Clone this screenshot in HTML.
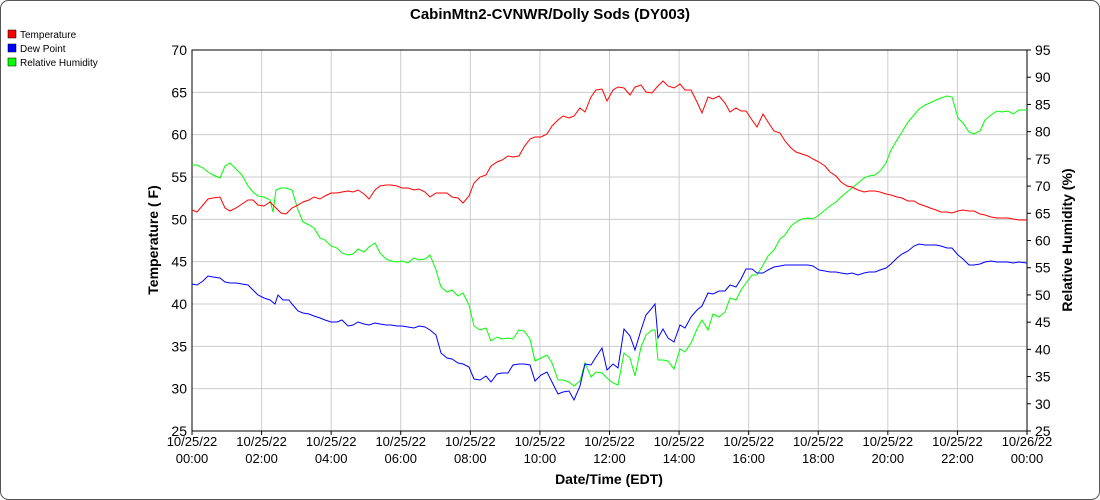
<!DOCTYPE html>
<html><head><meta charset="utf-8"><style>
html,body{margin:0;padding:0;background:#fff;}
svg{display:block;font-family:"Liberation Sans",Arial,sans-serif;}
</style></head><body>
<svg id="s" width="1100" height="500" xmlns="http://www.w3.org/2000/svg">
<rect x="0.5" y="0.5" width="1099" height="499" rx="8" fill="#fff" stroke="#555"/>
<text x="550" y="19" text-anchor="middle" font-size="15" font-weight="bold">CabinMtn2-CVNWR/Dolly Sods (DY003)</text>
<rect x="8" y="30" width="8" height="8" fill="#f00" stroke="#000" stroke-width="0.5"/><text x="20" y="38" font-size="10">Temperature</text>
<rect x="8" y="44" width="8" height="8" fill="#00f" stroke="#000" stroke-width="0.5"/><text x="20" y="52" font-size="10">Dew Point</text>
<rect x="8" y="58" width="8" height="8" fill="#0f0" stroke="#000" stroke-width="0.5"/><text x="20" y="66" font-size="10">Relative Humidity</text>
<g id="g"></g>
<text transform="translate(158,240) rotate(-90)" text-anchor="middle" font-size="14" font-weight="bold">Temperature ( F)</text>
<text transform="translate(1072,240) rotate(-90)" text-anchor="middle" font-size="14" font-weight="bold">Relative Humidity (%)</text>
<text x="609" y="484" text-anchor="middle" font-size="14" font-weight="bold">Date/Time (EDT)</text>
</svg>
<script>
var g=document.getElementById('g'),h='';
var L=192,R=1027,T=50,B=431;
for(var i=0;i<=9;i++){var y=T+i*(B-T)/9;h+='<line x1="'+L+'" x2="'+R+'" y1="'+y+'" y2="'+y+'" stroke="#ccc"/>';
h+='<text x="'+(L-5)+'" y="'+(y+5)+'" text-anchor="end" font-size="14">'+(70-5*i)+'</text>';}
for(var i=0;i<=14;i++){var y=T+i*(B-T)/14;h+='<line x1="'+R+'" x2="'+(R+4)+'" y1="'+y+'" y2="'+y+'" stroke="#000"/>';
h+='<text x="'+(R+8)+'" y="'+(y+5)+'" font-size="14">'+(95-5*i)+'</text>';}
for(var i=0;i<=12;i++){var x=L+i*(R-L)/12;h+='<line x1="'+x+'" x2="'+x+'" y1="'+T+'" y2="'+B+'" stroke="#ccc"/>';
h+='<line x1="'+x+'" x2="'+x+'" y1="'+B+'" y2="'+(B+4)+'" stroke="#000"/>';
var d=i==12?'10/26/22':'10/25/22',t=i==12?'00:00':((2*i<10?'0':'')+2*i+':00');
h+='<text x="'+x+'" y="446" text-anchor="middle" font-size="13">'+d+'</text><text x="'+x+'" y="463" text-anchor="middle" font-size="13">'+t+'</text>';}
h+='<rect x="'+L+'" y="'+T+'" width="'+(R-L)+'" height="'+(B-T)+'" fill="none" stroke="#000"/>';
var red="192,210 197,212 203,205 208,199 213,198 220,197 225,208 230,211 236,208 242,204 248,200 253,200 258,205 264,206 270,202 275,207 281,213 286,214 292,208 298,205 303,202 309,200 314,197 320,199 325,196 331,193 337,193 342,192 348,191 353,192 358,190 364,194 369,199 375,190 380,186 386,185 391,185 397,186 402,188 408,188 414,190 419,189 425,192 430,197 436,193 441,193 447,193 452,197 458,198 463,203 469,196 474,183 480,177 486,175 491,166 497,162 502,160 508,156 513,157 519,156 524,147 530,139 535,137 541,137 547,134 552,126 558,120 563,116 569,118 574,116 580,108 585,112 591,97 596,90 602,89 607,101 613,90 618,87 624,88 630,95 635,87 641,85 646,92 652,93 657,87 663,81 668,86 674,88 680,84 685,90 691,90 697,102 702,113 708,97 713,99 719,96 725,103 730,112 736,108 741,111 746,111 752,120 757,127 763,114 768,122 774,131 780,133 785,141 791,148 796,152 802,154 808,156 813,159 819,162 825,166 830,172 836,176 841,182 847,186 852,187 858,190 864,192 869,191 875,191 880,192 886,194 891,195 897,197 902,198 908,201 914,201 919,204 925,206 930,208 936,210 941,212 947,212 952,213 958,211 963,210 969,211 974,211 980,214 985,215 991,217 997,218 1002,218 1008,218 1013,219 1019,220 1027,220";
var blue="192,284 197,285 203,281 208,276 213,277 220,278 225,282 230,283 236,283 242,284 248,285 253,290 258,295 264,298 270,300 275,304 278,295 283,300 289,300 292,304 298,311 303,313 309,314 314,316 320,318 325,320 331,322 337,322 342,320 348,326 353,325 358,322 364,324 369,325 375,323 380,324 386,325 391,325 397,326 402,326 408,327 414,328 419,326 425,327 430,330 436,335 441,353 447,358 452,359 458,363 463,364 469,367 474,379 480,380 486,376 491,382 497,374 502,373 508,373 513,365 519,364 524,364 530,365 535,381 541,375 547,372 552,382 558,394 563,392 569,391 574,400 580,386 585,364 591,365 596,357 602,348 607,370 613,364 618,368 624,329 630,336 635,350 641,330 646,315 652,308 655,304 658,338 663,329 668,338 674,342 680,325 685,328 691,317 697,310 702,306 708,293 713,294 719,291 725,291 730,285 736,287 741,279 746,269 752,269 757,273 763,273 768,270 774,267 780,266 785,265 791,265 796,265 802,265 808,265 813,266 819,270 825,271 830,272 836,272 841,273 847,274 852,273 858,275 864,273 869,272 875,272 880,270 886,268 891,264 897,258 902,254 908,251 914,246 919,244 925,245 930,245 936,245 941,246 947,248 952,248 958,255 963,259 969,265 974,265 980,264 985,262 991,261 997,262 1002,262 1008,262 1013,263 1019,262 1027,263";
var green="192,165 197,165 203,168 208,172 213,175 220,178 225,166 230,163 236,169 242,175 248,186 253,192 258,196 264,197 270,200 273,212 276,190 281,188 286,188 292,190 298,210 303,222 309,225 314,228 320,238 325,240 331,246 337,248 342,253 348,255 353,254 358,249 364,252 369,247 375,243 380,253 386,259 391,261 397,262 402,261 408,263 414,258 419,260 425,259 430,255 436,270 441,287 447,292 452,290 458,296 463,293 469,305 474,326 480,330 486,328 491,341 497,337 502,339 508,338 513,339 519,330 524,331 530,339 535,361 541,358 547,355 552,363 558,380 563,380 569,382 574,386 580,381 585,363 591,377 596,372 602,373 607,378 613,383 618,385 624,353 630,358 635,376 641,347 646,335 652,330 655,330 658,360 663,360 668,361 674,369 680,349 685,352 691,343 697,329 702,320 708,330 713,314 719,317 725,312 730,298 736,300 741,290 746,283 752,275 757,275 763,265 768,256 774,250 780,239 785,235 791,226 796,222 802,219 808,218 813,219 819,215 825,210 830,206 836,202 841,197 847,192 852,188 858,183 864,178 869,176 875,175 880,171 886,163 891,150 897,140 902,132 908,122 914,115 919,109 925,105 930,103 936,100 941,98 947,96 952,97 958,118 963,123 969,132 974,134 980,131 985,120 991,115 997,111 1002,112 1008,111 1013,114 1019,110 1027,110";
h+='<polyline points="'+green+'" fill="none" stroke="#0f0" stroke-width="1"/>';
h+='<polyline points="'+blue+'" fill="none" stroke="#00f" stroke-width="1"/>';
h+='<polyline points="'+red+'" fill="none" stroke="#f00" stroke-width="1"/>';
g.innerHTML=h;
</script>
</body></html>
